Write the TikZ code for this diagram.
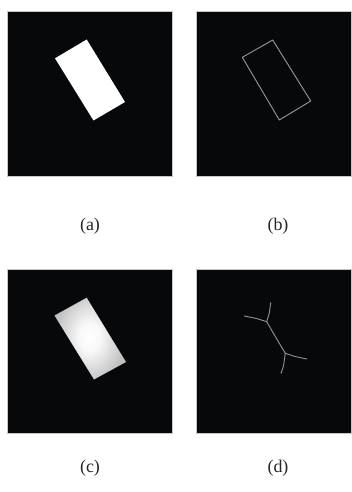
\documentclass[tikz,border=0pt]{standalone}
\usepackage{fontspec}
\setmainfont{Liberation Serif}
\definecolor{bgdark}{RGB}{6,8,10}
\definecolor{rim}{RGB}{192,192,192}
\definecolor{glow}{RGB}{248,248,248}
\pgfdeclareradialshading{distglow}{\pgfpoint{0bp}{0bp}}{%
  color(0bp)=(white); color(4bp)=(glow); color(13bp)=(rim); color(50bp)=(rim)}
\begin{document}
\begin{tikzpicture}[x=1bp,y=-1bp,
  panel/.style={fill=bgdark,draw=gray!45,line width=0.4bp},
  edgeline/.style={draw=gray!80,line width=0.9bp,line join=round},
  skel/.style={draw=gray!85,line width=0.9bp,line cap=round,line join=round},
  caption/.style={font=\fontsize{18}{21}\selectfont,text=black!85,inner sep=0pt}]
\useasboundingbox (0,0) rectangle (351,492);

% four image panels
\path[panel] (7.3,11.7) rectangle (171.7,176);
\path[panel] (195.7,11.7) rectangle (351,176);
\path[panel] (7.3,269.3) rectangle (171.7,433.5);
\path[panel] (195.7,269.3) rectangle (351,433.5);

% (a) filled rectangle
\fill[white] (55,58.3) -- (86.7,39.5) -- (125,102) -- (93.5,120.5) -- cycle;

% (b) its outline
\draw[edgeline] (242.3,57.3) -- (272.7,40) -- (310.7,101) -- (279.3,120) -- cycle;

% (c) distance-like shading inside the rectangle
\begin{scope}
  \clip (54.5,315.5) -- (86.7,297.7) -- (126,362) -- (94,379.5) -- cycle;
  \begin{scope}[shift={(89.5,337)},rotate=-31]
    \shade[shading=distglow] (0,0) ellipse (45 and 90);
  \end{scope}
\end{scope}

% (d) skeleton
\coordinate (j1) at (266.7,321.7);
\coordinate (j2) at (285.3,353.3);
\draw[skel] (244.3,316) -- (256.5,318.5) -- (j1);
\draw[skel] (270.7,302.7) -- (269.3,313) -- (j1);
\draw[skel] (j1) -- (275,336) -- (j2);
\draw[skel] (j2) -- (295,356.5) -- (306.7,359);
\draw[skel] (j2) -- (283.5,366) -- (281,373.3);

% captions
\node[caption] (capa) at (90,226) {(a)};
\node[caption] (capb) at (278,226) {(b)};
\node[caption] (capc) at (90,468) {(c)};
\node[caption] (capd) at (278,468) {(d)};
\end{tikzpicture}
\end{document}
